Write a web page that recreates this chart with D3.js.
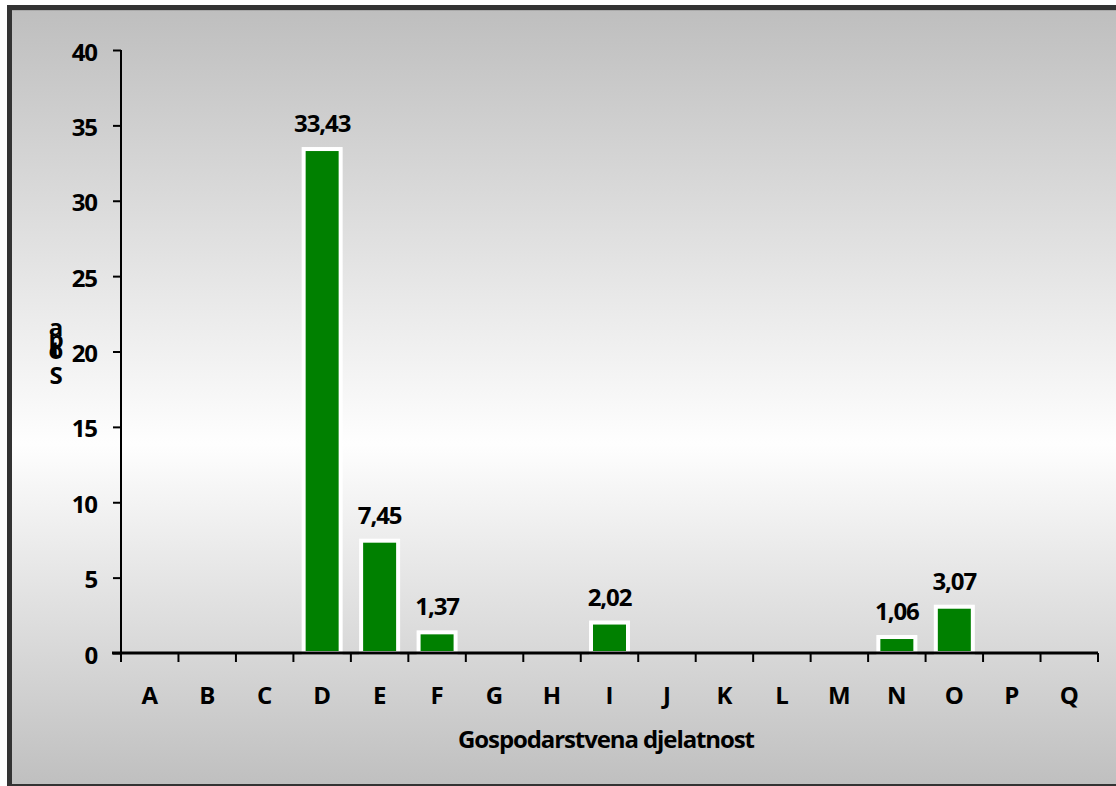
<!DOCTYPE html>
<html>
<head>
<meta charset="utf-8">
<script src="https://cdn.jsdelivr.net/npm/d3@7"></script>
<style>
  body { margin: 0; background: #ffffff; }
  text { font-family: "Open Sans", sans-serif; font-weight: bold; fill: #000; }
</style>
</head>
<body>
<div id="chart"></div>
<script>
var categories = ["A","B","C","D","E","F","G","H","I","J","K","L","M","N","O","P","Q"];
var values = [null, null, null, 33.43, 7.45, 1.37, null, null, 2.02, null, null, null, null, 1.06, 3.07, null, null];
var yTicks = [0, 5, 10, 15, 20, 25, 30, 35, 40];
var xTitle = "Gospodarstvena djelatnost";
var yTitle = "Stopa";

var W = 1116, H = 786;
var fontSize = "24px", tight = "-1.1px";
var svg = d3.select("#chart").append("svg").attr("width", W).attr("height", H);

var grad = svg.append("defs").append("linearGradient")
  .attr("id", "bg").attr("x1", 0).attr("y1", 0).attr("x2", 0).attr("y2", 1);
grad.append("stop").attr("offset", "0%").attr("stop-color", "#bebebe");
grad.append("stop").attr("offset", "56%").attr("stop-color", "#fefefe");
grad.append("stop").attr("offset", "100%").attr("stop-color", "#bfbfbf");

// frame
svg.append("rect")
  .attr("x", 9.5).attr("y", 7.5).attr("width", 1130).attr("height", 779)
  .attr("fill", "url(#bg)").attr("stroke", "#333333").attr("stroke-width", 5);
svg.append("line").attr("x1", 12).attr("x2", W).attr("y1", 10.5).attr("y2", 10.5)
  .attr("stroke", "#a8a8a8").attr("stroke-width", 1);

var plotL = 121, plotR = 1098, plotT = 50, plotB = 653;

var x = d3.scaleBand().domain(categories).range([plotL, plotR]).paddingInner(0).paddingOuter(0);
var y = d3.scaleLinear().domain([0, 40]).range([plotB, plotT]);

var rows = categories.map(function (c, i) { return { c: c, v: values[i] }; })
  .filter(function (d) { return d.v != null; });

// bars
var bw = 37;
svg.append("g").selectAll("rect")
  .data(rows)
  .enter().append("rect")
  .attr("x", function (d) { return x(d.c) + x.bandwidth() / 2 - bw / 2; })
  .attr("y", function (d) { return y(d.v); })
  .attr("width", bw)
  .attr("height", function (d) { return plotB - y(d.v); })
  .attr("fill", "#008000")
  .attr("stroke", "#ffffff")
  .attr("stroke-width", 4);

// value labels
svg.append("g").selectAll("text")
  .data(rows)
  .enter().append("text")
  .attr("x", function (d) { return x(d.c) + x.bandwidth() / 2; })
  .attr("y", function (d) { return y(d.v) - 17; })
  .attr("text-anchor", "middle")
  .style("font-size", fontSize)
  .style("letter-spacing", tight)
  .text(function (d) { return d.v.toFixed(2).replace(".", ","); });

// y axis
var yAxis = svg.append("g").attr("transform", "translate(" + plotL + ",0)")
  .call(d3.axisLeft(y).tickValues(yTicks).tickSize(8).tickPadding(16).tickFormat(d3.format("d")));
yAxis.select(".domain").attr("stroke", "#000").attr("stroke-width", 2).attr("d", "M0," + plotT + "V" + plotB);
yAxis.selectAll(".tick line").attr("stroke", "#000").attr("stroke-width", 2);
yAxis.selectAll(".tick text").attr("dy", "0.42em")
  .style("font-size", fontSize).style("letter-spacing", tight)
  .style("font-family", "'Open Sans', sans-serif").style("font-weight", "bold").attr("fill", "#000");

// x axis
var xAxis = svg.append("g").attr("transform", "translate(0," + plotB + ")")
  .call(d3.axisBottom(x).tickSize(0));
xAxis.select(".domain").attr("stroke", "#000").attr("stroke-width", 3).attr("d", "M" + (plotL - 9) + ",0H" + plotR);
xAxis.selectAll(".tick text").attr("y", 51).attr("dy", 0)
  .style("font-size", fontSize)
  .style("font-family", "'Open Sans', sans-serif").style("font-weight", "bold").attr("fill", "#000");
xAxis.selectAll(".sep")
  .data(d3.range(categories.length + 1))
  .enter().append("line")
  .attr("x1", function (i) { return plotL + i * x.step(); })
  .attr("x2", function (i) { return plotL + i * x.step(); })
  .attr("y1", 0).attr("y2", 9)
  .attr("stroke", "#000").attr("stroke-width", 2);

// axis titles
svg.append("text")
  .attr("x", 606)
  .attr("y", 748)
  .attr("text-anchor", "middle")
  .style("font-size", fontSize)
  .style("letter-spacing", tight)
  .text(xTitle);

// broken vertical title: letters stacked bottom-up, "S" lowest
var letters = yTitle.split("");
var letterY = [384, 358, 359, 348, 336];
svg.append("g").selectAll("text")
  .data(letters)
  .enter().append("text")
  .attr("x", 56)
  .attr("y", function (d, i) { return letterY[i]; })
  .attr("text-anchor", "middle")
  .style("font-size", fontSize)
  .text(function (d) { return d; });
</script>
</body>
</html>
